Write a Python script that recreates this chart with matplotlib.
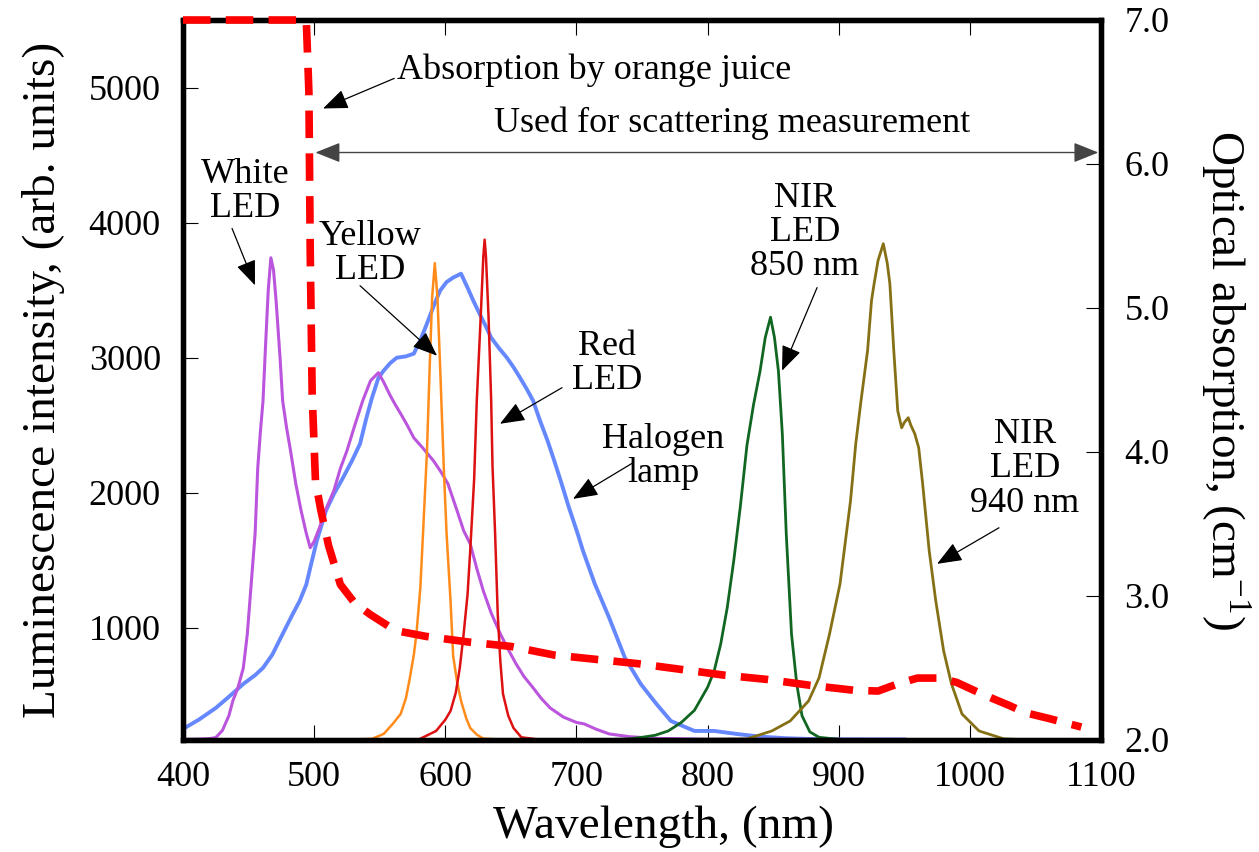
import matplotlib
matplotlib.use("Agg")
import matplotlib.pyplot as plt
from matplotlib.ticker import FormatStrFormatter

plt.rcParams['font.family'] = ['Liberation Serif', 'DejaVu Serif']
plt.rcParams['mathtext.fontset'] = 'custom'
plt.rcParams['mathtext.rm'] = 'Liberation Serif'

# White LED (purple)
white_nm = [400, 410, 420, 425, 430, 435, 438, 442, 446, 449, 451, 453, 455, 457, 459, 461,
            463, 465, 467, 469, 471, 474, 476, 479, 482, 486, 490, 494, 497, 500, 504, 509,
            515, 520, 525, 531, 537, 543, 549, 553, 558, 562, 566, 571, 576, 583, 591, 597,
            602, 609, 614, 619, 624, 629, 635, 642, 648, 654, 660, 667, 673, 680, 690, 700,
            706, 715, 725, 740, 760, 800, 900]
white_int = [175, 176, 180, 188, 240, 350, 460, 560, 704, 950, 1200, 1450, 1700, 2185, 2450, 2680,
             3100, 3500, 3740, 3650, 3420, 3000, 2680, 2480, 2311, 2067, 1870, 1700, 1593, 1640, 1740, 1880,
             2015, 2180, 2311, 2500, 2680, 2830, 2889, 2820, 2720, 2650, 2585, 2500, 2407, 2330, 2237, 2150,
             2067, 1867, 1720, 1622, 1440, 1274, 1110, 955, 840, 733, 640, 556, 480, 407, 340, 300,
             289, 250, 215, 195, 182, 176, 175]

# Halogen lamp (blue)
halogen_nm = [400, 412, 425, 435, 446, 455, 461, 468, 476, 483, 489, 494, 497, 502, 509, 515,
              522, 529, 535, 540, 544, 549, 553, 558, 563, 570, 576, 581, 586, 591, 596, 601,
              606, 612, 617, 621, 625, 630, 635, 641, 647, 652, 657, 662, 667, 672, 678, 683,
              688, 694, 701, 705, 714, 725, 737, 749, 761, 772, 790, 805, 822, 840, 860, 880,
              900, 950]
halogen_int = [252, 320, 407, 490, 585, 650, 704, 800, 955, 1090, 1200, 1320, 1444, 1644, 1867, 1990,
               2111, 2240, 2363, 2560, 2700, 2850, 2904, 2960, 3000, 3010, 3030, 3130, 3252, 3380, 3496, 3560,
               3593, 3622, 3518, 3430, 3348, 3250, 3148, 3070, 3000, 2930, 2852, 2770, 2681, 2540, 2385, 2240,
               2089, 1900, 1696, 1570, 1326, 1074, 778, 585, 437, 311, 237, 237, 215, 195, 183, 177,
               175, 174]

# Yellow LED (orange)
yellow_nm = [530, 544, 553, 560, 566, 570, 573, 576, 578, 581, 583, 586, 588, 590, 592, 594,
             596, 597, 599, 601, 604, 606, 609, 612, 616, 619, 624, 629, 640]
yellow_int = [175, 178, 215, 290, 363, 480, 630, 800, 955, 1300, 1696, 2300, 2900, 3450, 3700, 3450,
              2950, 2680, 2150, 1696, 1200, 792, 600, 460, 330, 259, 210, 180, 175]

# Red LED
red_nm = [580, 593, 600, 604, 608, 611, 614, 617, 619, 622, 624, 627, 629, 630, 631, 633,
          635, 636, 638, 640, 642, 644, 648, 652, 658, 670]
red_int = [175, 237, 320, 385, 520, 700, 955, 1250, 1570, 2100, 2680, 3300, 3750, 3874, 3750, 3300,
           2680, 2200, 1696, 1100, 750, 511, 350, 259, 190, 175]

# NIR LED 850 nm (green)
nir850_nm = [730, 740, 750, 760, 770, 780, 790, 800, 805, 810, 815, 820, 825, 830, 835, 840,
             844, 848, 851, 854, 857, 860, 864, 868, 872, 878, 885, 900]
nir850_int = [175, 178, 190, 205, 237, 300, 390, 560, 680, 880, 1150, 1500, 1900, 2350, 2650, 2900,
              3150, 3300, 3150, 2904, 2437, 1696, 955, 585, 350, 230, 190, 175]

# NIR LED 940 nm (olive)
nir940_nm = [800, 830, 849, 863, 877, 885, 893, 901, 909, 913, 917, 922, 925, 927, 930, 934,
             937, 939, 942, 945, 948, 950, 953, 955, 958, 961, 964, 969, 974, 980, 986, 994,
             1007, 1026, 1035]
nir940_int = [175, 178, 237, 311, 459, 630, 955, 1326, 1941, 2363, 2681, 3052, 3422, 3548, 3720, 3844,
              3700, 3548, 3052, 2607, 2481, 2520, 2556, 2500, 2437, 2333, 2067, 1570, 1200, 830, 585, 363,
              237, 178, 175]

# absorption of orange juice (right axis)
abs_nm = [400, 494, 496, 497, 498.5, 501, 505, 511, 520, 531, 543, 562, 585, 618, 650, 683,
          715, 747, 780, 813, 846, 878, 912, 930, 945, 960, 977, 990, 1009, 1030, 1042, 1060, 1085]
abs_val = [7.0, 7.0, 6.5, 5.4, 4.4, 3.8, 3.6, 3.35, 3.08, 2.95, 2.87, 2.76, 2.72, 2.68, 2.65, 2.59,
           2.56, 2.53, 2.49, 2.45, 2.42, 2.38, 2.345, 2.34, 2.39, 2.43, 2.43, 2.40, 2.32, 2.24, 2.19, 2.15, 2.09]

x_ticks = [400, 500, 600, 700, 800, 900, 1000, 1100]
left_ticks = [1000, 2000, 3000, 4000, 5000]
right_ticks = [2.0, 3.0, 4.0, 5.0, 6.0, 7.0]

fig = plt.figure(figsize=(12.59, 8.52), dpi=100)
ax = fig.add_axes([183 / 1259, 112 / 852, 918 / 1259, 720 / 852])

ax.plot(halogen_nm, halogen_int, color='#6688FF', lw=2.8, zorder=2)
ax.plot(white_nm, white_int, color='#BB55DD', lw=2.2, zorder=2)
ax.plot(yellow_nm, yellow_int, color='#FF8C1A', lw=1.8, zorder=2)
ax.plot(red_nm, red_int, color='#DD1111', lw=1.8, zorder=2)
ax.plot(nir850_nm, nir850_int, color='#116622', lw=2.0, zorder=2)
ax.plot(nir940_nm, nir940_int, color='#857015', lw=2.0, zorder=2)

ax.set_xlim(400, 1100)
ax.set_ylim(170, 5500)
ax.set_xticks(x_ticks)
ax.set_yticks(left_ticks)
ax.tick_params(axis='x', direction='in', length=11, width=0.8, top=True, labelsize=26, pad=15)
ax.tick_params(axis='y', direction='in', length=11, width=0.8, labelsize=26, pad=16)

ax.set_xlabel('Wavelength, (nm)', fontsize=34)
ax.xaxis.set_label_coords(0.523, -0.12)
ax.xaxis.label.set_va('center')
ax.set_ylabel('Luminescence intensity, (arb. units)', fontsize=34)
ax.yaxis.set_label_coords(-0.1525, 0.5)
ax.yaxis.label.set_va('center')

ax2 = ax.twinx()
ax2.plot(abs_nm, abs_val, color='#FF0000', lw=5.5, dashes=(3.6, 2.0), clip_on=False, zorder=3)
ax2.set_ylim(2.0, 7.0)
ax2.set_yticks(right_ticks)
ax2.yaxis.set_major_formatter(FormatStrFormatter('%.1f'))
ax2.tick_params(axis='y', direction='in', length=11, width=0.8, labelsize=26, pad=17)
ax2.set_ylabel('Optical absorption, (cm$^{\\mathregular{-1}}$)', fontsize=34, rotation=270)
ax2.yaxis.set_label_coords(1.136, 0.5)
ax2.yaxis.label.set_va('center')

for a in (ax, ax2):
    for s in a.spines.values():
        s.set_linewidth(3.8)

arrow = dict(arrowstyle='-|>,head_length=0.55,head_width=0.22', color='black', lw=0.9,
             mutation_scale=28, shrinkA=0, shrinkB=0)
ts = 26

ax.annotate('Absorption by orange juice', xy=(506.8, 4845), xytext=(563.2, 5126),
            fontsize=ts, ha='left', va='center', arrowprops=dict(arrow, relpos=(0, 0.3)))
ax.annotate('', xy=(501, 4519), xytext=(1098, 4519),
            arrowprops=dict(arrowstyle='<|-|>,head_length=0.55,head_width=0.22', color='#444444',
                            lw=1.0, mutation_scale=28, shrinkA=0, shrinkB=0))
ax.text(818.6, 4734, 'Used for scattering measurement', fontsize=ts, ha='center', va='center')

labels = [
    ('White\nLED', (447.3, 4231), (437.4, 3957), (454.9, 3536)),
    ('Yellow\nLED', (542.6, 3770), (535, 3533), (593.7, 3015)),
    ('Red\nLED', (723.3, 2956), (689, 2778), (641.7, 2511)),
    ('Halogen\nlamp', (766, 2267), (743.1, 2222), (697.4, 1955)),
    ('NIR\nLED\n850 nm', (874.3, 3926), (883.5, 3519), (856.8, 2904)),
    ('NIR\nLED\n940 nm', (1042, 2178), (1022.2, 1741), (975, 1474)),
]
for txt, pos, start, tip in labels:
    ax.text(pos[0], pos[1], txt, fontsize=ts, ha='center', va='center', multialignment='center',
            linespacing=1.05)
    ax.annotate('', xy=tip, xytext=start, arrowprops=arrow)

fig.savefig('out.png', dpi=100)
